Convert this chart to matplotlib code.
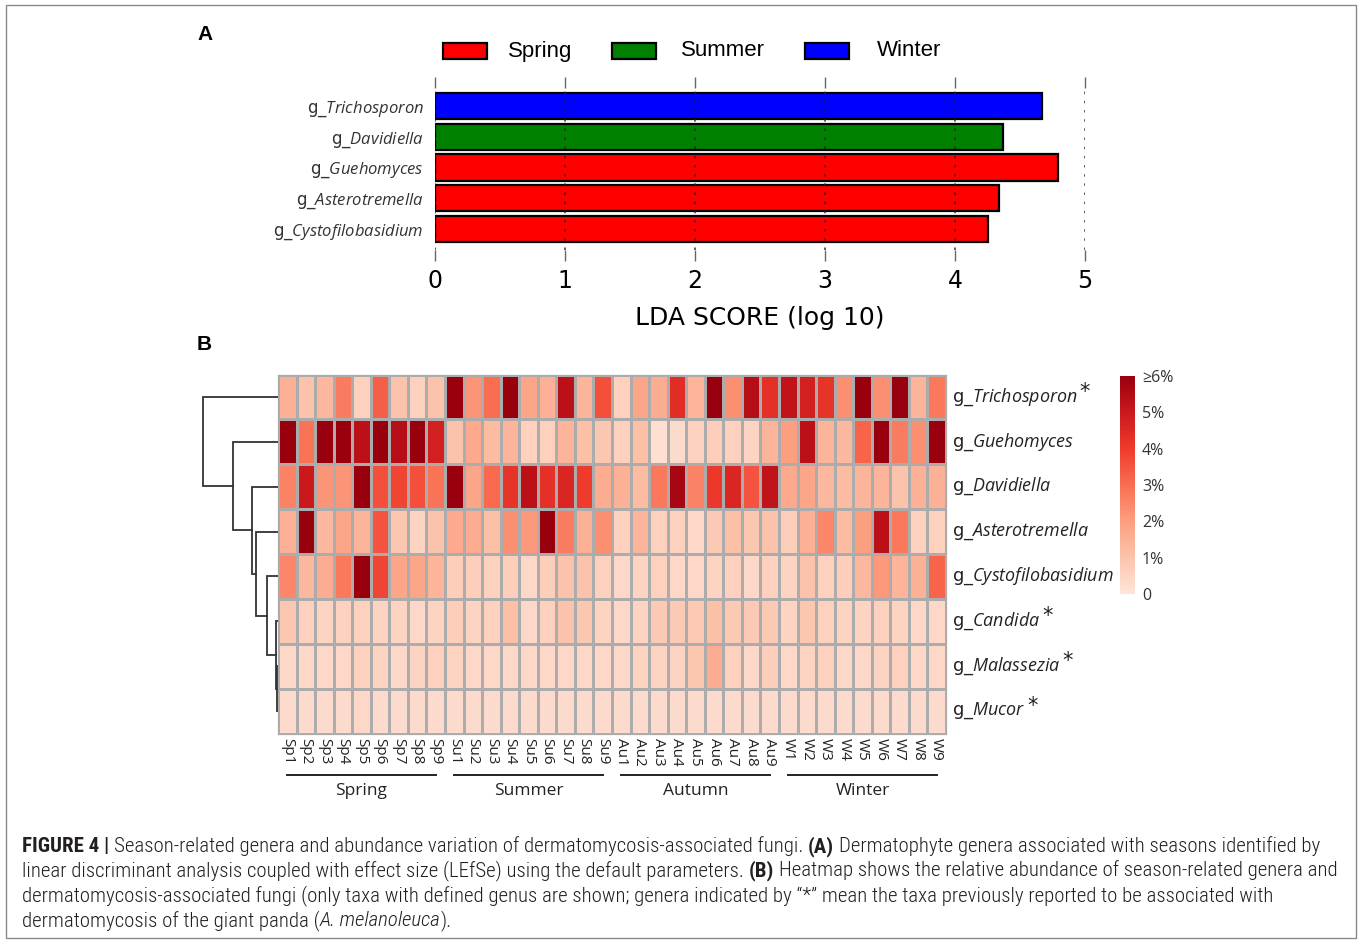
import matplotlib
matplotlib.use('Agg')
import matplotlib.pyplot as plt
from matplotlib import font_manager as fm
from matplotlib.colors import LinearSegmentedColormap
from matplotlib.patches import Rectangle
import matplotlib.transforms as mtransforms
import numpy as np

# ---------------- data ----------------
lda_genera = ['Trichosporon', 'Davidiella', 'Guehomyces', 'Asterotremella', 'Cystofilobasidium']
lda_scores = [4.67, 4.37, 4.79, 4.34, 4.25]
lda_season = ['Winter', 'Summer', 'Spring', 'Spring', 'Spring']
legend_seasons = ['Spring', 'Summer', 'Winter']
season_colors = {'Spring': '#ff0000', 'Summer': '#008000', 'Winter': '#0000ff'}
lda_ticks = [0, 1, 2, 3, 4, 5]

samples = (['Sp%d' % i for i in range(1, 10)] + ['Su%d' % i for i in range(1, 10)] +
           ['Au%d' % i for i in range(1, 10)] + ['W%d' % i for i in range(1, 10)])
season_groups = ['Spring', 'Summer', 'Autumn', 'Winter']

heat_genera = ['Trichosporon', 'Guehomyces', 'Davidiella', 'Asterotremella',
               'Cystofilobasidium', 'Candida', 'Malassezia', 'Mucor']
heat_star = [True, False, False, False, False, True, True, True]

trichosporon = [1.5, 1.0, 1.3, 2.7, 0.6, 3.3, 1.0, 0.6, 1.0,
                6.0, 2.2, 3.0, 6.0, 1.8, 1.5, 5.3, 1.4, 3.6,
                0.6, 1.8, 1.6, 4.4, 1.4, 6.0, 2.3, 5.4, 4.3,
                5.2, 4.8, 4.2, 2.3, 6.0, 2.3, 6.0, 1.4, 2.8]
guehomyces = [6.0, 2.9, 6.0, 6.0, 5.3, 6.0, 5.4, 6.0, 4.8,
              1.0, 1.7, 1.2, 1.4, 0.6, 0.6, 1.4, 1.1, 0.9,
              0.6, 1.1, 0.2, 0.3, 0.6, 0.7, 0.6, 0.5, 1.4,
              2.0, 5.3, 1.4, 1.3, 3.2, 6.0, 2.7, 2.3, 6.0]
davidiella = [2.6, 5.0, 2.2, 2.2, 6.0, 3.6, 3.8, 3.6, 2.9,
              6.0, 1.8, 3.1, 4.2, 5.3, 4.3, 4.6, 4.0, 1.6,
              1.5, 1.2, 2.8, 5.7, 2.6, 4.1, 4.6, 3.5, 5.2,
              1.7, 1.8, 1.3, 1.2, 1.4, 1.4, 1.0, 1.5, 1.5]
asterotremella = [1.5, 6.0, 1.3, 1.8, 1.4, 3.5, 0.9, 0.5, 1.0,
                  1.7, 1.6, 1.1, 2.3, 2.1, 6.0, 2.7, 1.5, 2.3,
                  0.6, 1.4, 0.6, 0.6, 0.4, 0.8, 1.1, 0.9, 1.0,
                  0.7, 1.5, 2.5, 1.2, 2.0, 5.3, 2.8, 0.6, 0.6]
cystofilobasidium = [2.5, 1.3, 1.6, 2.8, 6.0, 3.8, 1.8, 1.8, 1.4,
                     0.7, 0.7, 0.6, 0.7, 0.4, 0.7, 1.0, 1.0, 0.6,
                     0.4, 0.5, 0.6, 0.4, 0.4, 0.5, 0.6, 0.4, 0.6,
                     0.5, 1.0, 0.6, 0.7, 1.3, 2.1, 1.4, 1.5, 3.2]
candida = [0.9, 0.6, 0.5, 0.6, 0.6, 0.5, 0.5, 0.4, 0.5,
           0.7, 0.5, 0.6, 1.1, 0.4, 0.6, 1.0, 0.9, 0.5,
           0.4, 0.5, 0.8, 0.8, 0.8, 1.1, 0.8, 0.8, 0.8,
           0.5, 0.9, 0.6, 0.5, 0.5, 0.6, 0.5, 0.4, 0.4]
malassezia = [0.4, 0.4, 0.4, 0.4, 0.6, 0.5, 0.4, 0.5, 0.6,
              0.5, 0.4, 0.4, 0.4, 0.4, 0.4, 0.4, 0.4, 0.4,
              0.4, 0.5, 0.5, 0.5, 0.9, 1.6, 0.6, 0.4, 0.7,
              0.4, 0.5, 0.6, 0.4, 0.4, 0.5, 0.6, 0.4, 0.4]
mucor = [0.3, 0.3, 0.3, 0.3, 0.4, 0.3, 0.3, 0.3, 0.3,
         0.3, 0.3, 0.3, 0.3, 0.3, 0.3, 0.3, 0.3, 0.3,
         0.3, 0.3, 0.3, 0.3, 0.3, 0.3, 0.3, 0.3, 0.3,
         0.3, 0.3, 0.3, 0.3, 0.3, 0.3, 0.3, 0.3, 0.3]

# hierarchical clustering merges (leaf/cluster index a, b, height); leaves 0..7
dendro_merges = [(6, 7, 0.7), (5, 8, 2.0), (4, 9, 11.0), (3, 10, 22.0),
                 (2, 11, 26.0), (1, 12, 45.0), (0, 13, 75.0)]

cbar_ticks = [0, 1, 2, 3, 4, 5, 6]
cbar_labels = ['0', '1%', '2%', '3%', '4%', '5%', '\u22656%']

caption_lines = [
    [('FIGURE 4 |', 'bold', 'normal', False),
     ('Season-related genera and abundance variation of dermatomycosis-associated fungi.', 'light', 'normal', True),
     ('(A)', 'bold', 'normal', True),
     ('Dermatophyte genera associated with seasons identified by', 'light', 'normal', True)],
    [('linear discriminant analysis coupled with effect size (LEfSe) using the default parameters.', 'light', 'normal', False),
     ('(B)', 'bold', 'normal', True),
     ('Heatmap shows the relative abundance of season-related genera and', 'light', 'normal', True)],
    [('dermatomycosis-associated fungi (only taxa with defined genus are shown; genera indicated by \u201c*\u201d mean the taxa previously reported to be associated with', 'light', 'normal', False)],
    [('dermatomycosis of the giant panda (', 'light', 'normal', False),
     ('A. melanoleuca', 'light', 'italic', False),
     (').', 'light', 'normal', False)],
]

# ---------------- setup ----------------
plt.rcParams['mathtext.fontset'] = 'custom'
plt.rcParams['mathtext.rm'] = 'Open Sans'
plt.rcParams['mathtext.it'] = 'Open Sans:italic'
plt.rcParams['mathtext.bf'] = 'Open Sans:bold'

W, H = 1360, 940
fig = plt.figure(figsize=(W / 100, H / 100), dpi=100)
fig.patch.set_facecolor('white')


def px(x0, y0, x1, y1):
    return [x0 / W, 1 - y1 / H, (x1 - x0) / W, (y1 - y0) / H]


def has_font(name):
    try:
        fm.findfont(fm.FontProperties(family=name), fallback_to_default=False)
        return True
    except Exception:
        return False


cap_family = 'Liberation Sans'
for cand in ['Liberation Sans Narrow', 'Roboto Condensed', 'Arial Narrow']:
    if has_font(cand):
        cap_family = cand
        break

renderer = fig.canvas.get_renderer()

# outer frame
fig.add_artist(Rectangle((6 / W, 1 - 938 / H), 1350 / W, 933 / H, transform=fig.transFigure,
                         fill=False, edgecolor='#8a8a8a', lw=1.0))

# ---------------- Panel A ----------------
fig.text(197 / W, 1 - 35 / H, 'A', fontsize=15, fontweight='bold', family='Liberation Sans', va='center')
axA = fig.add_axes(px(435, 88, 1085, 250))
ypos = np.arange(len(lda_genera))[::-1]
axA.barh(ypos, lda_scores, height=0.85, color=[season_colors[s] for s in lda_season],
         edgecolor='black', linewidth=1.6, zorder=1)
axA.set_xlim(0, 5)
axA.set_ylim(-0.68, 4.585)
axA.set_axisbelow(False)
axA.xaxis.grid(True, linestyle=(0, (1.5, 4)), color='#222222', linewidth=1.2, alpha=0.85)
for s in axA.spines.values():
    s.set_visible(False)
axA.set_yticks(ypos)
axA.set_yticklabels(['g_$\\mathit{%s}$' % g for g in lda_genera], fontsize=12, color='#333333')
axA.tick_params(axis='y', length=0, pad=8)
axA.set_xticks(lda_ticks)
axA.set_xticklabels([str(t) for t in lda_ticks], fontsize=17)
axA.tick_params(axis='x', top=True, bottom=True, length=8, width=1, color='#666666', pad=6)
axA.set_xlabel('LDA SCORE (log 10)', fontsize=18, labelpad=9)

for s, x0, tx in zip(legend_seasons, [443, 612, 805], [508, 681, 877]):
    fig.add_artist(Rectangle((x0 / W, 1 - 59 / H), 44 / W, 16 / H, transform=fig.transFigure,
                             facecolor=season_colors[s], edgecolor='black', lw=1.6))
    fig.text(tx / W, 1 - 51 / H, s, fontsize=16, family='Liberation Sans', va='center', ha='left')

# ---------------- Panel B ----------------
fig.text(197 / W, 1 - 344 / H, 'B', fontsize=15, fontweight='bold', family='Liberation Sans', va='center')
data = np.array([trichosporon, guehomyces, davidiella, asterotremella,
                 cystofilobasidium, candida, malassezia, mucor])
cmap = LinearSegmentedColormap.from_list(
    'reds6', ['#fee5d9', '#fcc3ab', '#fc9e80', '#f96e52', '#ef3b2c', '#cb181d', '#99000d'])

axH = fig.add_axes(px(278, 374.5, 946, 733.5))
mesh = axH.pcolormesh(np.arange(len(samples) + 1), np.arange(len(heat_genera) + 1), data,
                      cmap=cmap, vmin=0, vmax=6, edgecolors='#acacac', linewidth=0.9)
axH.set_xlim(0, len(samples))
axH.set_ylim(len(heat_genera), 0)
for s in axH.spines.values():
    s.set_color('#acacac')
    s.set_linewidth(0.9)
axH.set_xticks(np.arange(len(samples)) + 0.5)
axH.set_xticklabels(samples, rotation=270, fontsize=11, family='Open Sans', color='#222222')
axH.tick_params(axis='x', length=0, pad=3)
axH.set_yticks([])

# row labels
trH = mtransforms.blended_transform_factory(axH.transAxes, axH.transData)
for i, (g, star) in enumerate(zip(heat_genera, heat_star)):
    t = axH.text(1.009, i + 0.5, 'g_$\\mathit{%s}$' % g, transform=trH, fontsize=12.9,
                 va='center', ha='left', color='#222222')
    if star:
        bb = t.get_window_extent(renderer=renderer)
        fig.text((bb.x1 + 2) / W, (bb.y0 + bb.height * 0.74) / H, '*', fontsize=15,
                 family='DejaVu Sans', va='center', ha='left', color='#222222')

# season group lines and labels
trX = mtransforms.blended_transform_factory(axH.transData, axH.transAxes)
for k, name in enumerate(season_groups):
    a = k * 9 + 0.5
    b = k * 9 + 8.5
    axH.plot([a, b], [-0.1156, -0.1156], transform=trX, color='#222222', lw=1.4, clip_on=False)
    axH.text((a + b) / 2, -0.16, name, transform=trX, ha='center', va='center',
             fontsize=12.5, family='Open Sans', color='#222222')

# dendrogram
axD = fig.add_axes(px(198, 374.5, 278, 733.5))
axD.set_xlim(80, 0)
axD.set_ylim(len(heat_genera), 0)
axD.axis('off')
pos = {i: (i + 0.5, 0.0) for i in range(len(heat_genera))}
nid = len(heat_genera)
for a, b, h in dendro_merges:
    ya, ha_ = pos[a]
    yb, hb = pos[b]
    axD.plot([ha_, h, h, hb], [ya, ya, yb, yb], color='#333333', lw=1.3, solid_joinstyle='miter')
    pos[nid] = ((ya + yb) / 2, h)
    nid += 1

# colorbar
cax = fig.add_axes(px(1120, 376, 1135, 594))
cb = fig.colorbar(mesh, cax=cax)
cb.outline.set_visible(False)
cb.set_ticks(cbar_ticks)
cb.set_ticklabels(cbar_labels)
cax.tick_params(length=0, pad=5, labelsize=11.5, labelcolor='#333333')
for lab in cax.get_yticklabels():
    lab.set_family(['Open Sans', 'DejaVu Sans'])

# ---------------- caption ----------------
def measure(txt, size, weight, style):
    t = fig.text(0, 0, txt, fontsize=size, fontweight=weight, fontstyle=style, family=cap_family)
    w = t.get_window_extent(renderer=renderer).width
    t.remove()
    return w


def line_width(line, size):
    sw = measure('x x', size, 'light', 'normal') - measure('xx', size, 'light', 'normal')
    tot = 0.0
    for txt, weight, style, sp in line:
        if sp:
            tot += sw
        tot += measure(txt, size, weight, style)
    return tot


cap_size = 12.0
wmax = max(line_width(l, cap_size) for l in caption_lines)
cap_size = cap_size * 1318.0 / wmax
space_w = measure('x x', cap_size, 'light', 'normal') - measure('xx', cap_size, 'light', 'normal')

baselines = [852, 876, 901, 926]
for line, yb in zip(caption_lines, baselines):
    x = 22.0
    for txt, weight, style, sp in line:
        if sp:
            x += space_w
        t = fig.text(x / W, 1 - yb / H, txt, fontsize=cap_size, fontweight=weight, fontstyle=style,
                     family=cap_family, va='baseline', ha='left', color='#231f20')
        x += t.get_window_extent(renderer=renderer).width

fig.savefig('out.png', dpi=100, facecolor='white')
